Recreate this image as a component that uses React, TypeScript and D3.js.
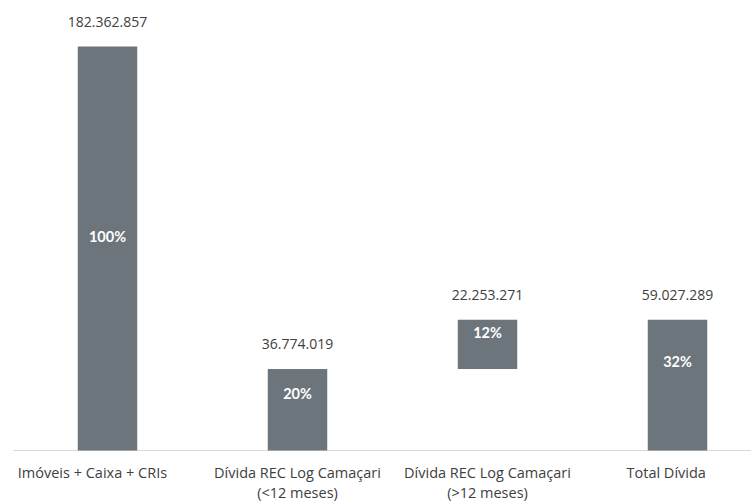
import React from "react";
import * as d3 from "d3";

const categories: string[][] = [
  ["Imóveis + Caixa + CRIs\u00a0\u00a0\u00a0\u00a0\u00a0\u00a0\u00a0\u00a0"],
  ["Dívida REC Log Camaçari", "(<12 meses)"],
  ["Dívida REC Log Camaçari", "(>12 meses)"],
  ["Total Dívida\u00a0\u00a0\u00a0\u00a0\u00a0\u00a0"],
];
const barStart: number[] = [0, 0, 36774019, 0];
const barEnd: number[] = [182362857, 36774019, 59027290, 59027289];
const valueLabels: string[] = ["182.362.857", "36.774.019", "22.253.271", "59.027.289"];
const pctLabels: string[] = ["100%", "20%", "12%", "32%"];
const pctLabelAt: number[] = [96400000, 25500000, 53000000, 40000000];

const W = 751;
const H = 502;

export default function App() {
  const x = d3
    .scaleBand<number>()
    .domain(categories.map((_, i) => i))
    .range([12.5, 772.5])
    .paddingInner(0.687)
    .paddingOuter(0.3435);
  const y = d3.scaleLinear().domain([0, 182362857]).range([450.5, 46.5]);
  const bw = x.bandwidth();
  return (
    <svg
      width={W}
      height={H}
      style={{ position: "absolute", left: 0, top: 0, background: "#fff" }}
    >
      <line x1={13} x2={W} y1={450.5} y2={450.5} stroke="#d9d9d9" strokeWidth={1} />
      {categories.map((c, i) => {
        const x0 = x(i)!;
        const cx = x0 + bw / 2;
        const top = y(barEnd[i]);
        const bot = y(barStart[i]);
        return (
          <g key={i}>
            <rect x={x0} y={top} width={bw} height={bot - top} fill="#6d757c" />
            <text
              x={cx}
              y={top - 20}
              textAnchor="middle"
              fontFamily="Open Sans"
              fontSize={14}
              fill="#404040"
            >
              {valueLabels[i]}
            </text>
            <text
              x={cx}
              y={y(pctLabelAt[i])}
              dy="0.35em"
              textAnchor="middle"
              fontFamily="Lato"
              fontWeight="bold"
              fontSize={14.5}
              fill="#ffffff"
            >
              {pctLabels[i]}
            </text>
            {c.map((line, j) => (
              <text
                key={j}
                x={cx}
                y={478 + j * 20}
                textAnchor="middle"
                fontFamily="Open Sans"
                fontSize={14.5}
                fill="#404040"
                style={{ whiteSpace: "pre" }}
              >
                {line}
              </text>
            ))}
          </g>
        );
      })}
    </svg>
  );
}
